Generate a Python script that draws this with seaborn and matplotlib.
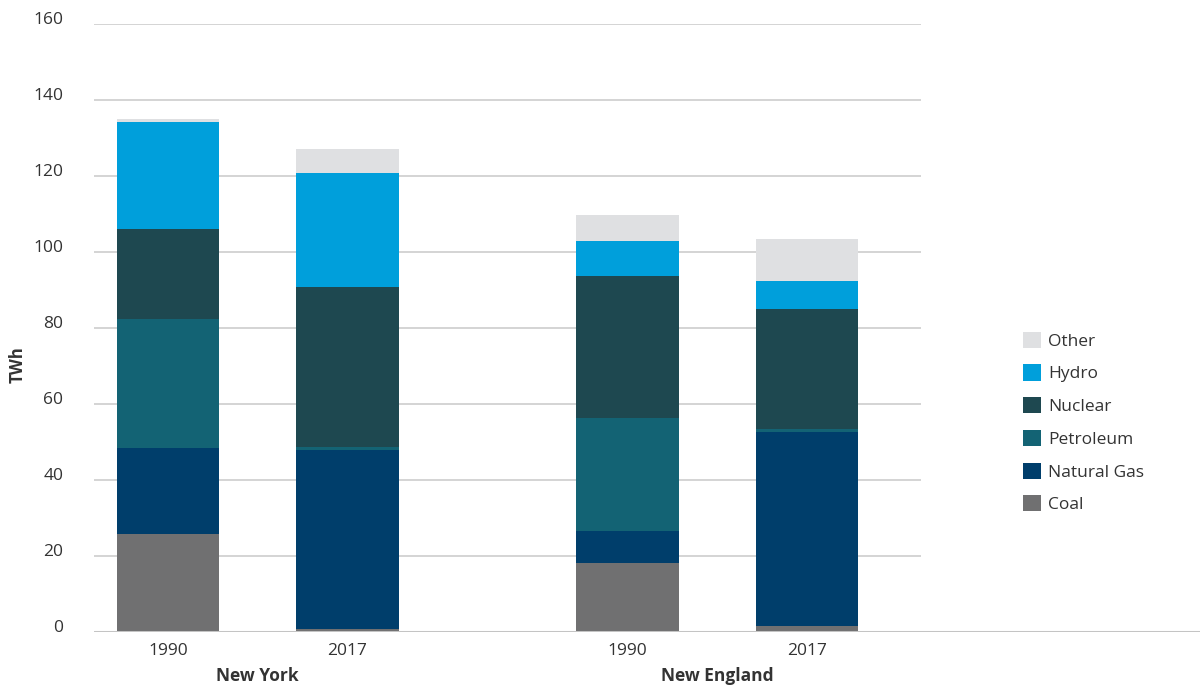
import numpy as np
import pandas as pd
import matplotlib
matplotlib.use("Agg")
import matplotlib.pyplot as plt
from matplotlib.patches import Patch
from matplotlib.transforms import ScaledTranslation, blended_transform_factory
import seaborn as sns

# ---- data (TWh) ----
regions = ["New York", "New York", "New England", "New England"]
years = ["1990", "2017", "1990", "2017"]
sources = ["Coal", "Natural Gas", "Petroleum", "Nuclear", "Hydro", "Other"]
coal = [25.9, 0.8, 18.2, 1.6]
natural_gas = [22.5, 47.2, 8.4, 51.1]
petroleum = [34.0, 0.7, 29.7, 0.7]
nuclear = [23.65, 42.2, 37.4, 31.6]
hydro = [28.15, 29.9, 9.2, 7.4]
other = [0.9, 6.3, 6.8, 11.0]
yticks = [0, 20, 40, 60, 80, 100, 120, 140, 160]

colors = {
    "Coal": "#707071",
    "Natural Gas": "#003e6b",
    "Petroleum": "#136374",
    "Nuclear": "#1e4850",
    "Hydro": "#009fdb",
    "Other": "#dfe0e2",
}

sns.set_theme(style="white")
plt.rcParams["font.family"] = ["Open Sans", "DejaVu Sans"]

positions = [0.0, 1.0, 2.56, 3.56]
df = pd.DataFrame({"pos": positions, "Coal": coal, "Natural Gas": natural_gas,
                   "Petroleum": petroleum, "Nuclear": nuclear, "Hydro": hydro,
                   "Other": other})
cum = df[sources].cumsum(axis=1)
cum["pos"] = positions

fig = plt.figure(figsize=(12.02, 6.88), dpi=100)
ax = fig.add_axes([94 / 1202, 1 - 632 / 688, (1200 - 94) / 1202, (632 - 24) / 688])

xmin, xmax = -0.412, 5.749
grid_right = 4.195

ax.hlines(yticks[1:], xmin, grid_right, color="#c9c9c9", lw=1.1, zorder=0)

for s in reversed(sources):
    sns.barplot(data=cum, x="pos", y=s, native_scale=True, width=0.57,
                color=colors[s], saturation=1, linewidth=0, errorbar=None,
                ax=ax, zorder=2)

ax.axhline(0, color="#c4c4c4", lw=2.2, zorder=3)

ax.set_xlim(xmin, xmax)
ax.set_ylim(0, 160)
for sp in ax.spines.values():
    sp.set_visible(False)
ax.set_xlabel("")
ax.set_ylabel("")

ax.set_yticks(yticks)
ax.set_yticklabels([str(v) for v in yticks])
ax.tick_params(axis="y", length=0, pad=22, labelsize=12.5, labelcolor="#333333")
for lab in ax.get_yticklabels():
    lab.set_transform(lab.get_transform() + ScaledTranslation(0, 6 / 100, fig.dpi_scale_trans))

ax.set_xticks(positions)
ax.set_xticklabels(years)
ax.tick_params(axis="x", length=0, pad=8, labelsize=12.5, labelcolor="#333333")

trans = blended_transform_factory(ax.transData, fig.transFigure)
groups = ["New York", "New England"]
for g, (a, b) in zip(groups, [(0, 1), (2, 3)]):
    fig.text((positions[a] + positions[b]) / 2, 1 - 676 / 688, g, transform=trans,
             ha="center", va="center", fontsize=12.5, fontweight="bold", color="#333333")

fig.text(18 / 1202, 1 - 365 / 688, "TWh", rotation=90, ha="center", va="center",
         fontsize=12, fontweight="bold", color="#333333")

handles = [Patch(facecolor=colors[s], edgecolor="none", label=s) for s in reversed(sources)]
ax.legend(handles=handles, loc="center left", bbox_to_anchor=(1022.7 / 1202, 1 - 422.5 / 688),
          bbox_transform=fig.transFigure, frameon=False, fontsize=12.5,
          handlelength=1.05, handleheight=1.05, handletextpad=0.4, labelspacing=0.85,
          borderpad=0, borderaxespad=0, labelcolor="#333333")

fig.savefig("out.png", dpi=100)
